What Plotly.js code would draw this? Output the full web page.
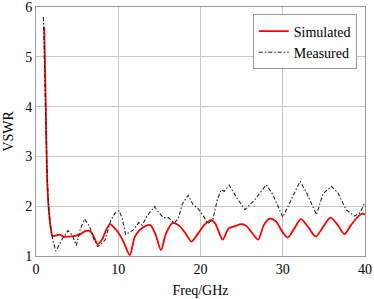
<!DOCTYPE html>
<html><head><meta charset="utf-8">
<script src="https://cdn.plot.ly/plotly-3.0.1.min.js"></script>
<style>html,body{margin:0;padding:0;background:#fff}#c{width:374px;height:299px}</style>
</head><body><div id="c"></div>
<script>
const simFreq = [1.0,1.2,1.36,1.5,1.65,1.8,2.0,2.4,2.9,3.3,4.0,4.6,5.3,6.0,6.4,6.8,7.5,8.0,8.6,9.0,9.5,10.0,10.6,11.4,12.0,12.6,13.3,13.9,14.5,15.2,15.8,16.6,17.4,18.2,18.9,19.7,20.5,21.3,21.8,22.7,23.4,24.2,25.0,25.6,26.2,27.0,27.7,28.4,29.2,29.9,30.6,31.4,32.2,33.1,34.0,34.9,35.8,36.7,37.5,38.3,39.2,39.7,40.0];
const simVswr = [5.6,3.9,2.5,2.05,1.75,1.55,1.4,1.41,1.43,1.39,1.39,1.40,1.43,1.50,1.51,1.46,1.24,1.32,1.55,1.64,1.57,1.47,1.30,1.02,1.38,1.52,1.60,1.62,1.45,1.12,1.45,1.66,1.61,1.45,1.29,1.45,1.63,1.72,1.65,1.33,1.55,1.60,1.64,1.60,1.48,1.33,1.62,1.75,1.69,1.50,1.37,1.55,1.74,1.58,1.39,1.58,1.77,1.62,1.44,1.62,1.80,1.85,1.83];
const measFreq = [0.9,1.1,1.3,1.5,1.7,2.0,2.4,2.9,3.3,3.9,4.4,4.9,5.4,5.9,6.5,7.0,7.5,8.0,8.4,9.1,9.6,10.1,10.5,10.9,11.8,12.5,12.9,13.6,14.4,15.1,15.5,16.1,16.8,17.3,17.8,18.5,19.1,19.7,20.3,20.9,21.5,22.0,22.5,22.9,23.5,24.4,25.4,26.6,28.0,28.8,30.0,30.8,32.1,32.9,34.1,34.9,35.9,36.7,37.7,38.7,39.4,40.0];
const measVswr = [5.8,4.3,2.9,2.1,1.7,1.35,1.1,1.25,1.37,1.51,1.42,1.21,1.55,1.74,1.6,1.35,1.19,1.25,1.32,1.72,1.86,1.91,1.75,1.43,1.52,1.67,1.62,1.83,1.99,1.84,1.77,1.77,1.66,1.75,2.05,2.22,2.03,1.95,1.82,1.65,1.73,2.1,2.33,2.30,2.42,2.17,1.93,2.13,2.43,2.23,1.78,2.05,2.5,2.27,1.83,2.25,2.40,2.27,1.93,1.80,1.87,2.08];
const yTicks = [1,2,3,4,5,6];
const names = ["Simulated","Measured"];
const font = "Liberation Serif";
const traces = [
 {x: simFreq, y: simVswr, name: names[0], mode: "lines", line: {color: "#ff0000", width: 1.8, shape: "spline", smoothing: 0.8}},
 {x: measFreq, y: measVswr, name: names[1], mode: "lines", line: {color: "#222222", width: 1.1, dash: "4px,2px,1.5px,2px"}}
];
const layout = {
 width: 374, height: 299,
 margin: {l: 36, r: 9, t: 7, b: 43},
 paper_bgcolor: "#fff", plot_bgcolor: "#fff",
 font: {family: font, size: 14, color: "#000"},
 showlegend: true,
 legend: {x: 0.975, y: 0.97, xanchor: "right", yanchor: "top", bgcolor: "#fff", bordercolor: "#999", borderwidth: 1, font: {family: font, size: 14}, tracegroupgap: 0, itemwidth: 30},
 xaxis: {range: [0, 40], dtick: 10, tick0: 0, showgrid: true, gridcolor: "#c8c8c8", gridwidth: 1, zeroline: false, showline: true, linecolor: "#999", linewidth: 1, mirror: true, ticks: "", ticklabeloverflow: "allow", title: {text: "Freq/GHz", font: {family: font, size: 14}, standoff: 9}, tickfont: {family: font, size: 14}},
 yaxis: {range: [1, 6], tickmode: "array", tickvals: yTicks, showgrid: true, gridcolor: "#c8c8c8", gridwidth: 1, zeroline: false, showline: true, linecolor: "#999", linewidth: 1, mirror: true, ticks: "", ticklabeloverflow: "allow", title: {text: "VSWR", font: {family: font, size: 14}, standoff: 8}, tickfont: {family: font, size: 14}}
};
Plotly.newPlot("c", traces, layout, {displayModeBar: false, staticPlot: true});
</script></body></html>
